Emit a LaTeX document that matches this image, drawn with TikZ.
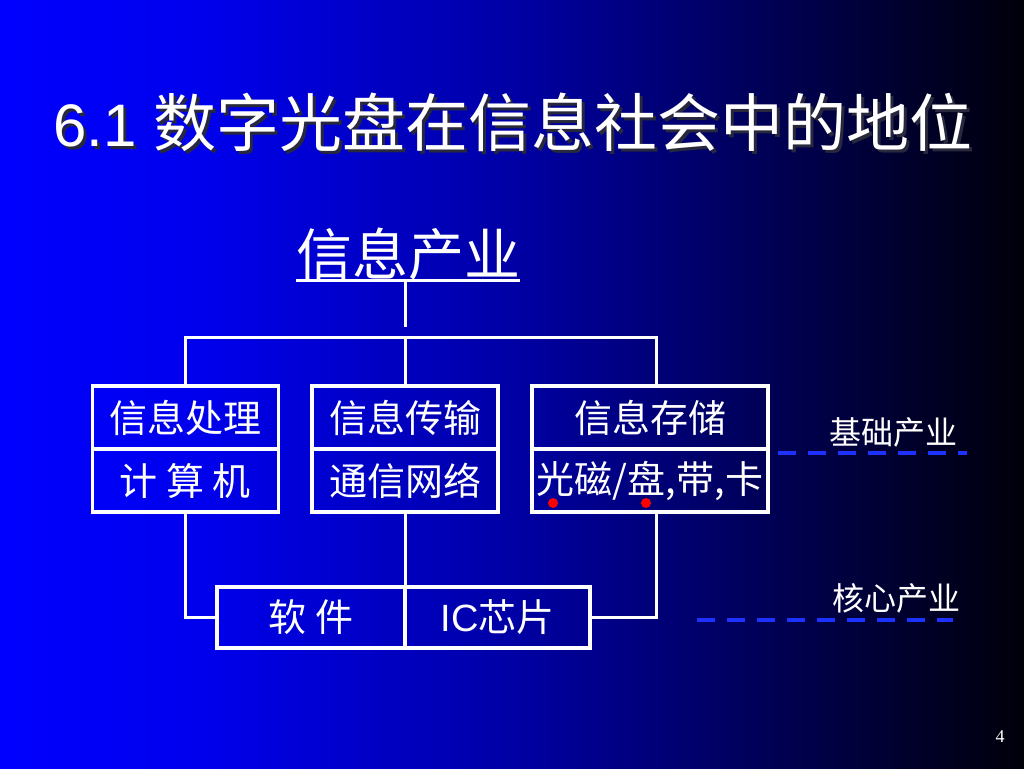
\documentclass[tikz,border=0pt]{standalone}
\usepackage{fontspec}
\usepackage{tikz}
\setmainfont{Liberation Sans}
\newfontfamily\cjk{Noto Sans CJK SC}
\newfontfamily\pagefont{Liberation Serif}
\definecolor{bgA}{RGB}{0,0,255}
\definecolor{bgB}{RGB}{0,0,236}
\definecolor{bgC}{RGB}{0,0,165}
\definecolor{bgD}{RGB}{0,0,85}
\definecolor{bgE}{RGB}{0,0,10}
\definecolor{dashblue}{RGB}{30,50,255}
\definecolor{titleshadow}{RGB}{40,40,60}
\pgfdeclarehorizontalshading{slidebg}{100bp}{color(0bp)=(bgA); color(25bp)=(bgA); color(35bp)=(bgB); color(50bp)=(bgC); color(62.5bp)=(bgD); color(75bp)=(bgE); color(100bp)=(bgE)}

\begin{document}
\begin{tikzpicture}[x=1pt,y=-1pt,
		cell/.style={draw=white,line width=3.5pt,inner sep=0pt,minimum height=63pt,text=white,font=\cjk\fontsize{38}{40}\selectfont},
		wire/.style={white,line width=3pt},
		level/.style={text=white,inner sep=0pt,font=\cjk\fontsize{32}{34}\selectfont},
		guide/.style={draw=dashblue,line width=4pt,dash pattern=on 18pt off 12pt},
		heading/.style={anchor=west,inner sep=0pt,font=\fontsize{60}{64}\selectfont}]
			\useasboundingbox (0,0) rectangle (1024,768);
			\shade[shading=slidebg] (0,0) rectangle (1024,768);
			\node[heading,text=titleshadow] (titleshade) at (56,125) {6.1 {\cjk\fontsize{63}{64}\selectfont 数字光盘在信息社会中的地位}};
			\node[heading,text=white] (title) at (53,122) {6.1 {\cjk\fontsize{63}{64}\selectfont 数字光盘在信息社会中的地位}};
			\node[text=white,inner sep=0pt,font=\cjk\fontsize{56}{58}\selectfont] (root) at (408,254) {信息产业};
			\draw[wire] (root.south west) -- (root.south east);
			\coordinate (stem) at (405,327);
			\coordinate (bar) at (405,337);
			\coordinate (storup) at (656,386);
			\coordinate (stordown) at (656,512);
			\node[cell,minimum width=186pt] (proc) at (185.5,417.5) {信息处理};
			\node[cell,minimum width=186pt] (procB) at (185.5,480.5) {计 算 机};
			\node[cell,minimum width=186pt] (trans) at (405,417.5) {信息传输};
			\node[cell,minimum width=186pt] (transB) at (405,480.5) {通信网络};
			\node[cell,minimum width=236pt] (stor) at (650,417.5) {信息存储};
			\node[cell,minimum width=236pt] (storB) at (650,480.5) {光磁/盘,带,卡};
			\node[cell,minimum width=188pt,minimum height=61pt] (soft) at (311,617.5) {软 件};
			\node[cell,minimum width=185pt,minimum height=61pt] (chip) at (497.5,617.5) {{\fontspec{Liberation Sans}IC}芯片};
			\draw[wire] (root.south -| stem) -- (stem);
			\draw[wire] (proc.north) |- (bar) -| (storup);
			\draw[wire] (bar) -- (trans.north);
			\draw[wire] (procB.south) |- (soft.west);
			\draw[wire] (transB.south) -- (transB.south |- soft.north);
			\draw[wire] (stordown) |- (chip.east);
			\fill[red] (553,503) circle (5pt);
			\fill[red] (646,503) circle (5pt);
			\node[level] (basic) at (893,432) {基础产业};
			\node[level] (core) at (896,598) {核心产业};
			\draw[guide] (778,453) -- (967,453);
			\draw[guide] (697,620) -- (953,620);
			\node[text=white,font=\pagefont\fontsize{18}{20}\selectfont] (page) at (1000,737) {4};
		\end{tikzpicture}
\end{document}
